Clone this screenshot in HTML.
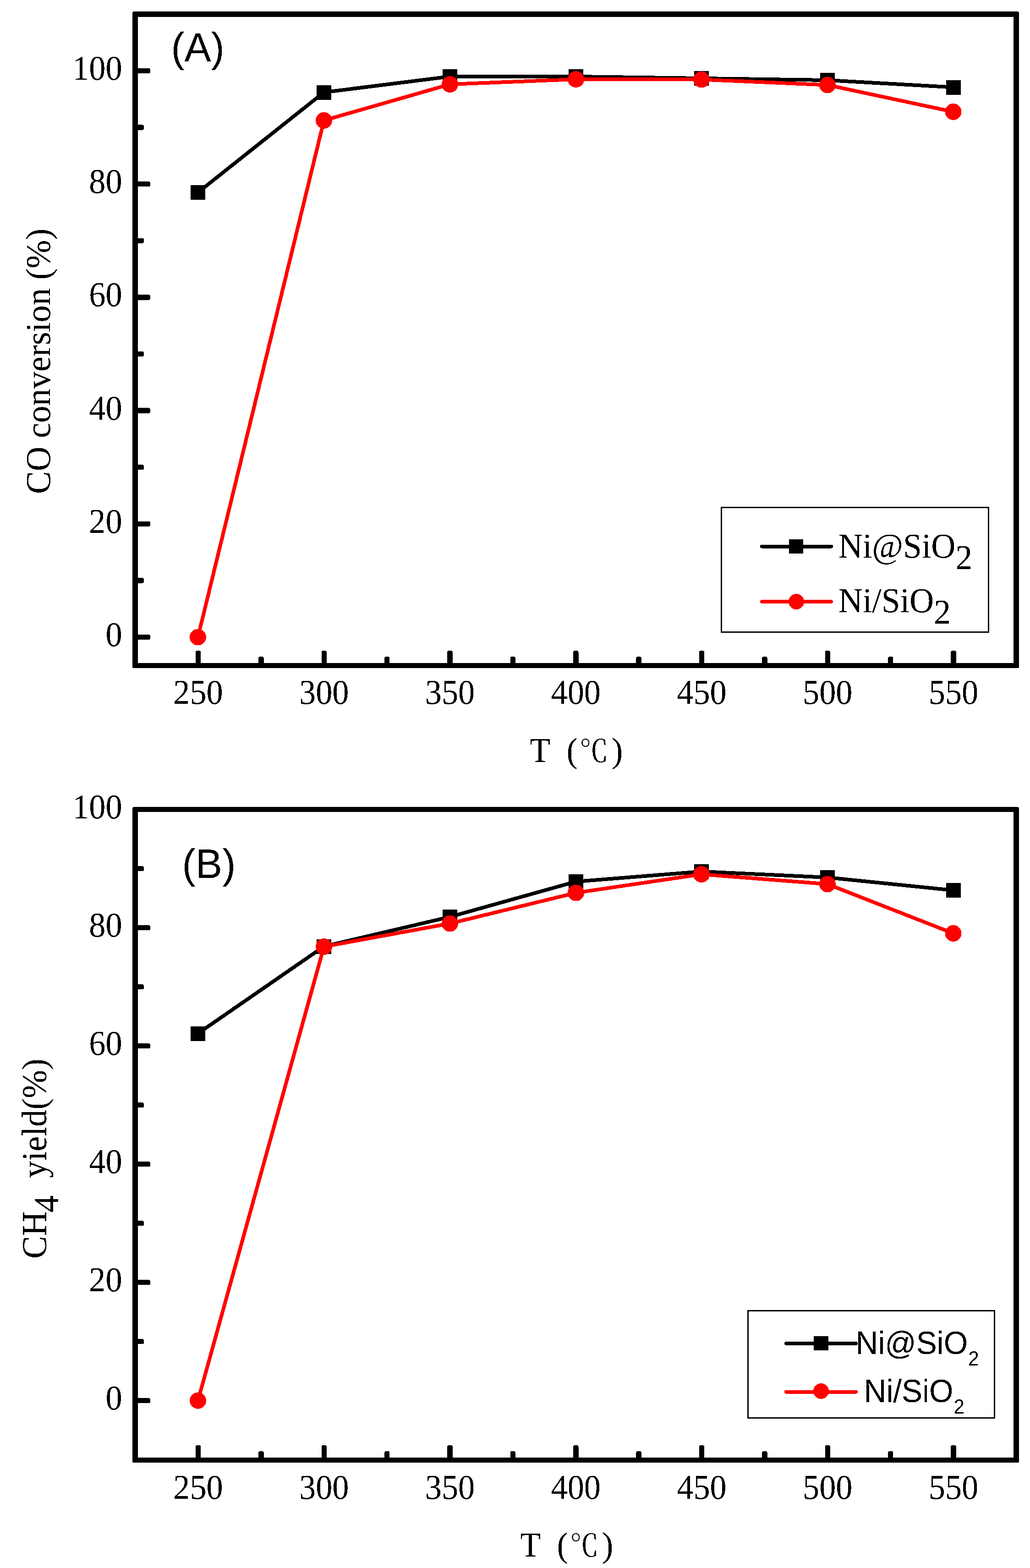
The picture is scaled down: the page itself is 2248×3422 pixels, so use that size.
<!DOCTYPE html>
<html lang="en"><head><meta charset="utf-8"><title>CO conversion and CH4 yield vs temperature</title>
<style>html,body{margin:0;padding:0;background:#fff}svg{display:block}text{fill:#000}</style></head>
<body>
<svg width="2248" height="3422" viewBox="0 0 2248 3422" shape-rendering="crispEdges">
<defs><filter id="bin" filterUnits="userSpaceOnUse" x="0" y="0" width="2248" height="3422" color-interpolation-filters="sRGB"><feComponentTransfer><feFuncA type="discrete" tableValues="0 1"/></feComponentTransfer></filter></defs>
<rect width="2248" height="3422" fill="#fff"/>
<polyline fill="none" stroke="#000" stroke-width="8" stroke-linejoin="round" stroke-linecap="round" points="432,420 707,201.5 982,167 1257,167 1531,171 1806,175 2080.5,190.5"/>
<rect x="416" y="404" width="32" height="32" fill="#000"/>
<rect x="691" y="185.5" width="32" height="32" fill="#000"/>
<rect x="966" y="151" width="32" height="32" fill="#000"/>
<rect x="1241" y="151" width="32" height="32" fill="#000"/>
<rect x="1515" y="155" width="32" height="32" fill="#000"/>
<rect x="1790" y="159" width="32" height="32" fill="#000"/>
<rect x="2064.5" y="174.5" width="32" height="32" fill="#000"/>
<polyline fill="none" stroke="#f00" stroke-width="8" stroke-linejoin="round" stroke-linecap="round" points="432,1390.5 707,262.8 982,184 1257,173 1531,173.5 1806,185.5 2080.5,244"/>
<circle cx="432" cy="1390.5" r="18" fill="#f00"/>
<circle cx="707" cy="262.8" r="18" fill="#f00"/>
<circle cx="982" cy="184" r="18" fill="#f00"/>
<circle cx="1257" cy="173" r="18" fill="#f00"/>
<circle cx="1531" cy="173.5" r="18" fill="#f00"/>
<circle cx="1806" cy="185.5" r="18" fill="#f00"/>
<circle cx="2080.5" cy="244" r="18" fill="#f00"/>
<rect x="295" y="1384.75" width="33" height="11.5" rx="4"/>
<rect x="295" y="1137.55" width="33" height="11.5" rx="4"/>
<rect x="295" y="890.35" width="33" height="11.5" rx="4"/>
<rect x="295" y="643.15" width="33" height="11.5" rx="4"/>
<rect x="295" y="395.95" width="33" height="11.5" rx="4"/>
<rect x="295" y="148.75" width="33" height="11.5" rx="4"/>
<rect x="295" y="1261.15" width="19" height="11.5" rx="4"/>
<rect x="295" y="1013.95" width="19" height="11.5" rx="4"/>
<rect x="295" y="766.75" width="19" height="11.5" rx="4"/>
<rect x="295" y="519.55" width="19" height="11.5" rx="4"/>
<rect x="295" y="272.35" width="19" height="11.5" rx="4"/>
<rect x="426.75" y="1420.0" width="11.5" height="32.5" rx="4"/>
<rect x="701.50" y="1420.0" width="11.5" height="32.5" rx="4"/>
<rect x="976.25" y="1420.0" width="11.5" height="32.5" rx="4"/>
<rect x="1251.00" y="1420.0" width="11.5" height="32.5" rx="4"/>
<rect x="1525.75" y="1420.0" width="11.5" height="32.5" rx="4"/>
<rect x="1800.50" y="1420.0" width="11.5" height="32.5" rx="4"/>
<rect x="2075.25" y="1420.0" width="11.5" height="32.5" rx="4"/>
<rect x="564.12" y="1433.0" width="11.5" height="19.5" rx="4"/>
<rect x="838.88" y="1433.0" width="11.5" height="19.5" rx="4"/>
<rect x="1113.62" y="1433.0" width="11.5" height="19.5" rx="4"/>
<rect x="1388.38" y="1433.0" width="11.5" height="19.5" rx="4"/>
<rect x="1663.12" y="1433.0" width="11.5" height="19.5" rx="4"/>
<rect x="1937.88" y="1433.0" width="11.5" height="19.5" rx="4"/>
<path fill-rule="evenodd" d="M292.5 25H2220.5Q2224 25 2224 28.5V1454.5Q2224 1458 2220.5 1458H292.5Q289 1458 289 1454.5V28.5Q289 25 292.5 25Z M301 37V1447H2212V37Z"/>
<polyline fill="none" stroke="#000" stroke-width="8" stroke-linejoin="round" stroke-linecap="round" points="432,2255.5 707,2065.5 982,2001 1257,1924 1531,1902 1806,1915 2080.5,1943"/>
<rect x="416" y="2239.5" width="32" height="32" fill="#000"/>
<rect x="691" y="2049.5" width="32" height="32" fill="#000"/>
<rect x="966" y="1985" width="32" height="32" fill="#000"/>
<rect x="1241" y="1908" width="32" height="32" fill="#000"/>
<rect x="1515" y="1886" width="32" height="32" fill="#000"/>
<rect x="1790" y="1899" width="32" height="32" fill="#000"/>
<rect x="2064.5" y="1927" width="32" height="32" fill="#000"/>
<polyline fill="none" stroke="#f00" stroke-width="8" stroke-linejoin="round" stroke-linecap="round" points="432,3056.7 707,2066 982,2015.5 1257,1948.5 1531,1908 1806,1929.5 2080.5,2037"/>
<circle cx="432" cy="3056.7" r="18" fill="#f00"/>
<circle cx="707" cy="2066" r="18" fill="#f00"/>
<circle cx="982" cy="2015.5" r="18" fill="#f00"/>
<circle cx="1257" cy="1948.5" r="18" fill="#f00"/>
<circle cx="1531" cy="1908" r="18" fill="#f00"/>
<circle cx="1806" cy="1929.5" r="18" fill="#f00"/>
<circle cx="2080.5" cy="2037" r="18" fill="#f00"/>
<rect x="295" y="3050.95" width="33" height="11.5" rx="4"/>
<rect x="295" y="2792.95" width="33" height="11.5" rx="4"/>
<rect x="295" y="2534.95" width="33" height="11.5" rx="4"/>
<rect x="295" y="2276.95" width="33" height="11.5" rx="4"/>
<rect x="295" y="2018.95" width="33" height="11.5" rx="4"/>
<rect x="295" y="1760.95" width="33" height="11.5" rx="4"/>
<rect x="295" y="2921.95" width="19" height="11.5" rx="4"/>
<rect x="295" y="2663.95" width="19" height="11.5" rx="4"/>
<rect x="295" y="2405.95" width="19" height="11.5" rx="4"/>
<rect x="295" y="2147.95" width="19" height="11.5" rx="4"/>
<rect x="295" y="1889.95" width="19" height="11.5" rx="4"/>
<rect x="426.75" y="3154.0" width="11.5" height="32.5" rx="4"/>
<rect x="701.50" y="3154.0" width="11.5" height="32.5" rx="4"/>
<rect x="976.25" y="3154.0" width="11.5" height="32.5" rx="4"/>
<rect x="1251.00" y="3154.0" width="11.5" height="32.5" rx="4"/>
<rect x="1525.75" y="3154.0" width="11.5" height="32.5" rx="4"/>
<rect x="1800.50" y="3154.0" width="11.5" height="32.5" rx="4"/>
<rect x="2075.25" y="3154.0" width="11.5" height="32.5" rx="4"/>
<rect x="564.12" y="3167.0" width="11.5" height="19.5" rx="4"/>
<rect x="838.88" y="3167.0" width="11.5" height="19.5" rx="4"/>
<rect x="1113.62" y="3167.0" width="11.5" height="19.5" rx="4"/>
<rect x="1388.38" y="3167.0" width="11.5" height="19.5" rx="4"/>
<rect x="1663.12" y="3167.0" width="11.5" height="19.5" rx="4"/>
<rect x="1937.88" y="3167.0" width="11.5" height="19.5" rx="4"/>
<path fill-rule="evenodd" d="M292.5 1761H2220.5Q2224 1761 2224 1764.5V3188.5Q2224 3192 2220.5 3192H292.5Q289 3192 289 3188.5V1764.5Q289 1761 292.5 1761Z M301 1772V3181H2212V1772Z"/>
<rect x="1574.5" y="1107.5" width="583" height="272" fill="#fff" stroke="#000" stroke-width="3"/>
<path d="M1663 1192.5H1814" stroke="#000" stroke-width="8" stroke-linecap="round"/>
<rect x="1722" y="1177" width="31" height="31" fill="#000"/>
<path d="M1663 1313H1814" stroke="#f00" stroke-width="8" stroke-linecap="round"/>
<circle cx="1738" cy="1313" r="17" fill="#f00"/>
<rect x="1632.5" y="2860.5" width="538" height="234" fill="#fff" stroke="#000" stroke-width="3"/>
<path d="M1716 2932H1868" stroke="#000" stroke-width="8" stroke-linecap="round"/>
<rect x="1776" y="2916" width="32" height="31" fill="#000"/>
<path d="M1716 3037.5H1868" stroke="#f00" stroke-width="8" stroke-linecap="round"/>
<circle cx="1792" cy="3036" r="17" fill="#f00"/>
<g filter="url(#bin)">
<text transform="translate(266.70 1410.00) scale(0.9400 1.0000)" font-family='"Liberation Serif", "Noto Serif CJK SC", serif' font-size="77" text-anchor="end" >0</text>
<text transform="translate(266.70 1162.80) scale(0.9400 1.0000)" font-family='"Liberation Serif", "Noto Serif CJK SC", serif' font-size="77" text-anchor="end" >20</text>
<text transform="translate(266.70 915.60) scale(0.9400 1.0000)" font-family='"Liberation Serif", "Noto Serif CJK SC", serif' font-size="77" text-anchor="end" >40</text>
<text transform="translate(266.70 668.40) scale(0.9400 1.0000)" font-family='"Liberation Serif", "Noto Serif CJK SC", serif' font-size="77" text-anchor="end" >60</text>
<text transform="translate(266.70 421.20) scale(0.9400 1.0000)" font-family='"Liberation Serif", "Noto Serif CJK SC", serif' font-size="77" text-anchor="end" >80</text>
<text transform="translate(266.70 174.00) scale(0.9400 1.0000)" font-family='"Liberation Serif", "Noto Serif CJK SC", serif' font-size="77" text-anchor="end" >100</text>
<text transform="translate(432.50 1536.00) scale(0.9400 1.0000)" font-family='"Liberation Serif", "Noto Serif CJK SC", serif' font-size="77" text-anchor="middle" >250</text>
<text transform="translate(707.25 1536.00) scale(0.9400 1.0000)" font-family='"Liberation Serif", "Noto Serif CJK SC", serif' font-size="77" text-anchor="middle" >300</text>
<text transform="translate(982.00 1536.00) scale(0.9400 1.0000)" font-family='"Liberation Serif", "Noto Serif CJK SC", serif' font-size="77" text-anchor="middle" >350</text>
<text transform="translate(1256.75 1536.00) scale(0.9400 1.0000)" font-family='"Liberation Serif", "Noto Serif CJK SC", serif' font-size="77" text-anchor="middle" >400</text>
<text transform="translate(1531.50 1536.00) scale(0.9400 1.0000)" font-family='"Liberation Serif", "Noto Serif CJK SC", serif' font-size="77" text-anchor="middle" >450</text>
<text transform="translate(1806.25 1536.00) scale(0.9400 1.0000)" font-family='"Liberation Serif", "Noto Serif CJK SC", serif' font-size="77" text-anchor="middle" >500</text>
<text transform="translate(2081.00 1536.00) scale(0.9400 1.0000)" font-family='"Liberation Serif", "Noto Serif CJK SC", serif' font-size="77" text-anchor="middle" >550</text>
<text transform="translate(266.70 3076.20) scale(0.9400 1.0000)" font-family='"Liberation Serif", "Noto Serif CJK SC", serif' font-size="77" text-anchor="end" >0</text>
<text transform="translate(266.70 2818.20) scale(0.9400 1.0000)" font-family='"Liberation Serif", "Noto Serif CJK SC", serif' font-size="77" text-anchor="end" >20</text>
<text transform="translate(266.70 2560.20) scale(0.9400 1.0000)" font-family='"Liberation Serif", "Noto Serif CJK SC", serif' font-size="77" text-anchor="end" >40</text>
<text transform="translate(266.70 2302.20) scale(0.9400 1.0000)" font-family='"Liberation Serif", "Noto Serif CJK SC", serif' font-size="77" text-anchor="end" >60</text>
<text transform="translate(266.70 2044.20) scale(0.9400 1.0000)" font-family='"Liberation Serif", "Noto Serif CJK SC", serif' font-size="77" text-anchor="end" >80</text>
<text transform="translate(266.70 1786.20) scale(0.9400 1.0000)" font-family='"Liberation Serif", "Noto Serif CJK SC", serif' font-size="77" text-anchor="end" >100</text>
<text transform="translate(432.50 3271.00) scale(0.9400 1.0000)" font-family='"Liberation Serif", "Noto Serif CJK SC", serif' font-size="77" text-anchor="middle" >250</text>
<text transform="translate(707.25 3271.00) scale(0.9400 1.0000)" font-family='"Liberation Serif", "Noto Serif CJK SC", serif' font-size="77" text-anchor="middle" >300</text>
<text transform="translate(982.00 3271.00) scale(0.9400 1.0000)" font-family='"Liberation Serif", "Noto Serif CJK SC", serif' font-size="77" text-anchor="middle" >350</text>
<text transform="translate(1256.75 3271.00) scale(0.9400 1.0000)" font-family='"Liberation Serif", "Noto Serif CJK SC", serif' font-size="77" text-anchor="middle" >400</text>
<text transform="translate(1531.50 3271.00) scale(0.9400 1.0000)" font-family='"Liberation Serif", "Noto Serif CJK SC", serif' font-size="77" text-anchor="middle" >450</text>
<text transform="translate(1806.25 3271.00) scale(0.9400 1.0000)" font-family='"Liberation Serif", "Noto Serif CJK SC", serif' font-size="77" text-anchor="middle" >500</text>
<text transform="translate(2081.00 3271.00) scale(0.9400 1.0000)" font-family='"Liberation Serif", "Noto Serif CJK SC", serif' font-size="77" text-anchor="middle" >550</text>
<text transform="translate(373.50 133.80) scale(1.0150 1.0250)" font-family='"Liberation Sans", "Noto Sans CJK SC", sans-serif' font-size="86" text-anchor="start" >(A)</text>
<text transform="translate(397.50 1916.00) scale(1.0200 1.0350)" font-family='"Liberation Sans", "Noto Sans CJK SC", sans-serif' font-size="86" text-anchor="start" >(B)</text>
<text transform="translate(109.00 1078.00) rotate(-90) scale(0.9675 1.0000)" font-family='"Liberation Serif", "Noto Serif CJK SC", serif' font-size="77" text-anchor="start" >CO conversion (%)</text>
<text transform="translate(100.5 2747) rotate(-90) scale(0.9675 1)" font-family='"Liberation Serif", "Noto Serif CJK SC", serif' font-size="77">CH<tspan dy="26" dx="-2.5">4</tspan><tspan dy="-26" dx="20"> yield(%)</tspan></text>
<text transform="translate(1156.3 1663) scale(0.95 1)" font-family='"Liberation Serif", "Noto Serif CJK SC", serif' font-size="77">T <tspan x="84.4">(</tspan><tspan x="113.8" font-size="67">℃</tspan><tspan x="188.1">)</tspan></text>
<text transform="translate(1135.3 3397) scale(0.95 1)" font-family='"Liberation Serif", "Noto Serif CJK SC", serif' font-size="77">T <tspan x="84.4">(</tspan><tspan x="113.8" font-size="67">℃</tspan><tspan x="188.1">)</tspan></text>
<text transform="translate(1829.8 1216.5) scale(0.955 1)" font-family='"Liberation Serif", "Noto Serif CJK SC", serif' font-size="77">Ni@SiO<tspan dy="25">2</tspan></text>
<text transform="translate(1829.8 1336.2) scale(0.955 1)" font-family='"Liberation Serif", "Noto Serif CJK SC", serif' font-size="77">Ni/SiO<tspan dy="25">2</tspan></text>
<text transform="translate(1867.5 2955) scale(1 1.04)" font-family='"Liberation Sans", "Noto Sans CJK SC", sans-serif' font-size="67.5">Ni@SiO<tspan dy="24" dx="1" font-size="42">2</tspan></text>
<text transform="translate(1885.5 3059.5) scale(1 1.04)" font-family='"Liberation Sans", "Noto Sans CJK SC", sans-serif' font-size="67.5">Ni/SiO<tspan dy="24.5" dx="1" font-size="42">2</tspan></text>
</g>
</svg>
</body></html>
